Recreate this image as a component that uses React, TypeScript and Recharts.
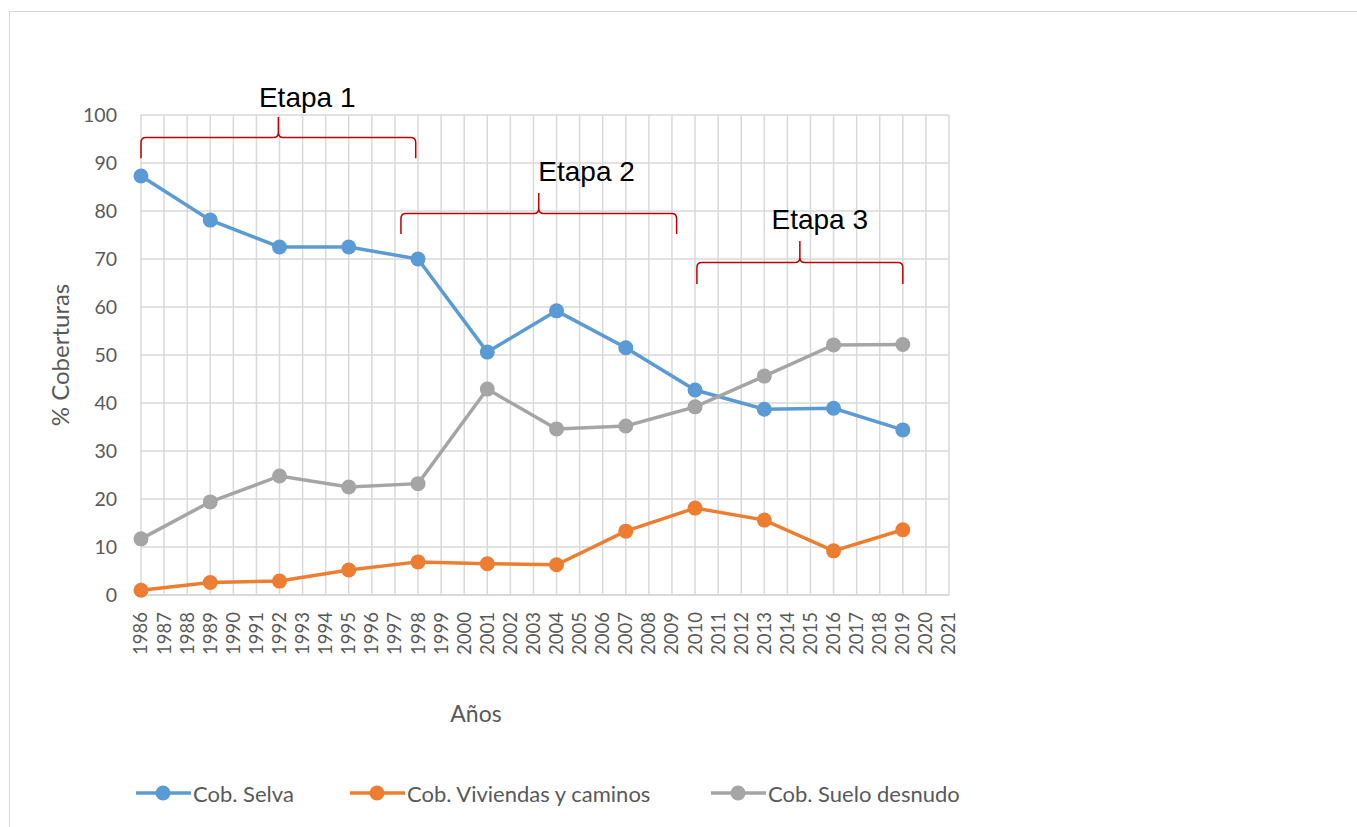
import React from 'react';
import { LineChart, Line, XAxis, YAxis, CartesianGrid, ReferenceLine, ReferenceDot, Label } from 'recharts';

const years = [1986, 1989, 1992, 1995, 1998, 2001, 2004, 2007, 2010, 2013, 2016, 2019];
const selva = [87.3, 78.1, 72.5, 72.5, 70.0, 50.6, 59.2, 51.5, 42.7, 38.7, 38.9, 34.4];
const viviendas = [1.0, 2.6, 2.9, 5.2, 6.9, 6.5, 6.3, 13.3, 18.1, 15.6, 9.2, 13.6];
const suelo = [11.7, 19.4, 24.8, 22.5, 23.2, 42.9, 34.6, 35.2, 39.2, 45.6, 52.1, 52.2];

const yearTicks = [
  1986, 1987, 1988, 1989, 1990, 1991, 1992, 1993, 1994, 1995, 1996, 1997,
  1998, 1999, 2000, 2001, 2002, 2003, 2004, 2005, 2006, 2007, 2008, 2009,
  2010, 2011, 2012, 2013, 2014, 2015, 2016, 2017, 2018, 2019, 2020, 2021,
];
const valueTicks = [0, 10, 20, 30, 40, 50, 60, 70, 80, 90, 100];

// the three stage braces and their labels
const stages = ['Etapa 1', 'Etapa 2', 'Etapa 3'];
const braceFrom = [1986, 1997.26, 2010.08];
const braceTo = [1997.9, 2009.2, 2019.0];
const braceLow = [91.0, 75.2, 64.8];
const braceTop = [99.6, 83.75, 73.75];
const stageX = [1993.2, 2005.3, 2015.4];
const stageY = [103.7, 88.3, 78.3];

const series = [
  { key: 'selva', name: 'Cob. Selva', color: '#5b9bd5' },
  { key: 'viviendas', name: 'Cob. Viviendas y caminos', color: '#ed7d31' },
  { key: 'suelo', name: 'Cob. Suelo desnudo', color: '#a5a5a5' },
];
const legendLeft = [136, 350, 711];

const data = years.map((year, i) => ({
  year,
  selva: selva[i],
  viviendas: viviendas[i],
  suelo: suelo[i],
}));

const FONT = 'Lato, "Liberation Sans", sans-serif';
const GREY_TEXT = '#595959';

function YearTick(props: any) {
  const { x, y, payload } = props;
  return (
    <g transform={`translate(${x},${y + 9})`}>
      <text transform="rotate(-90)" textAnchor="end" dy="0.35em" fill={GREY_TEXT} fontSize={18.5} fontFamily={FONT}>
        {payload.value}
      </text>
    </g>
  );
}

function Brace(props: any) {
  const { x1, y1, x2, y2 } = props;
  const yl = (y1 + y2) / 2;
  const xt = (x1 + x2) / 2;
  const r = 5;
  const d = [
    `M ${x1} ${y1} L ${x1} ${yl + r} Q ${x1} ${yl} ${x1 + r} ${yl}`,
    `L ${xt - r} ${yl} Q ${xt} ${yl} ${xt} ${yl - r} L ${xt} ${y2}`,
    `M ${xt} ${yl - r} Q ${xt} ${yl} ${xt + r} ${yl}`,
    `L ${x2 - r} ${yl} Q ${x2} ${yl} ${x2} ${yl + r} L ${x2} ${y1}`,
  ].join(' ');
  return <path d={d} fill="none" stroke="#c00000" strokeWidth={1.5} />;
}

function LegendRow() {
  return (
    <>
      {series.map((s, i) => (
        <div
          key={s.key}
          style={{ position: 'absolute', left: legendLeft[i], top: 779, display: 'flex', alignItems: 'center', height: 28, fontFamily: FONT, fontSize: 22, color: GREY_TEXT, whiteSpace: 'nowrap' }}
        >
          <svg width={57} height={20}>
            <line x1={0} y1={10} x2={55} y2={10} stroke={s.color} strokeWidth={3.5} />
            <circle cx={27} cy={10} r={7.5} fill={s.color} />
          </svg>
          <span>{s.name}</span>
        </div>
      ))}
    </>
  );
}

export default function App() {
  return (
    <div style={{ position: 'absolute', left: 0, top: 0, width: 1357, height: 827, overflow: 'hidden', background: '#fff' }}>
      <div style={{ position: 'absolute', left: 9, top: 11, width: 1400, height: 900, border: '1.5px solid #d9d9d9' }} />
      <div style={{ position: 'absolute', left: 0, top: 0 }}>
        <LineChart width={1357} height={827} data={data} margin={{ top: 115, right: 408, left: 0, bottom: 0 }}>
          <CartesianGrid stroke="#d9d9d9" strokeWidth={1.5} />
          <XAxis
            dataKey="year"
            type="number"
            domain={[1986, 2021]}
            ticks={yearTicks}
            interval={0}
            height={232}
            tickLine={false}
            axisLine={{ stroke: '#d9d9d9', strokeWidth: 2 }}
            tick={<YearTick />}
          >
            <Label value="Años" position="insideTop" offset={111} dx={-69} fill={GREY_TEXT} fontSize={23} fontFamily={FONT} />
          </XAxis>
          <YAxis
            type="number"
            domain={[0, 100]}
            ticks={valueTicks}
            width={141}
            tickLine={false}
            axisLine={false}
            tickSize={0}
            tickMargin={24}
            tick={{ fill: GREY_TEXT, fontSize: 19.5, fontFamily: FONT }}
          >
            <Label value="% Coberturas" angle={-90} position="insideLeft" offset={60} fill={GREY_TEXT} fontSize={24} fontFamily={FONT} style={{ textAnchor: 'middle' }} />
          </YAxis>
          {stages.map((s, i) => (
            <ReferenceLine
              key={`b${s}`}
              segment={[{ x: braceFrom[i], y: braceLow[i] }, { x: braceTo[i], y: braceTop[i] }]}
              ifOverflow="visible"
              shape={<Brace />}
            />
          ))}
          {stages.map((s, i) => (
            <ReferenceDot
              key={`t${s}`}
              x={stageX[i]}
              y={stageY[i]}
              r={0}
              ifOverflow="visible"
              shape={(p: any) => (
                <text x={p.cx} y={p.cy} dy="0.35em" textAnchor="middle" fontSize={28} fontFamily='"Liberation Sans", Arial, sans-serif' fill="#000">
                  {s}
                </text>
              )}
            />
          ))}
          {series.map((s) => (
            <Line
              key={s.key}
              dataKey={s.key}
              name={s.name}
              stroke={s.color}
              strokeWidth={3.5}
              dot={{ r: 7.5, fill: s.color, stroke: s.color, strokeWidth: 0 }}
              isAnimationActive={false}
            />
          ))}
        </LineChart>
      </div>
      <LegendRow />
    </div>
  );
}
